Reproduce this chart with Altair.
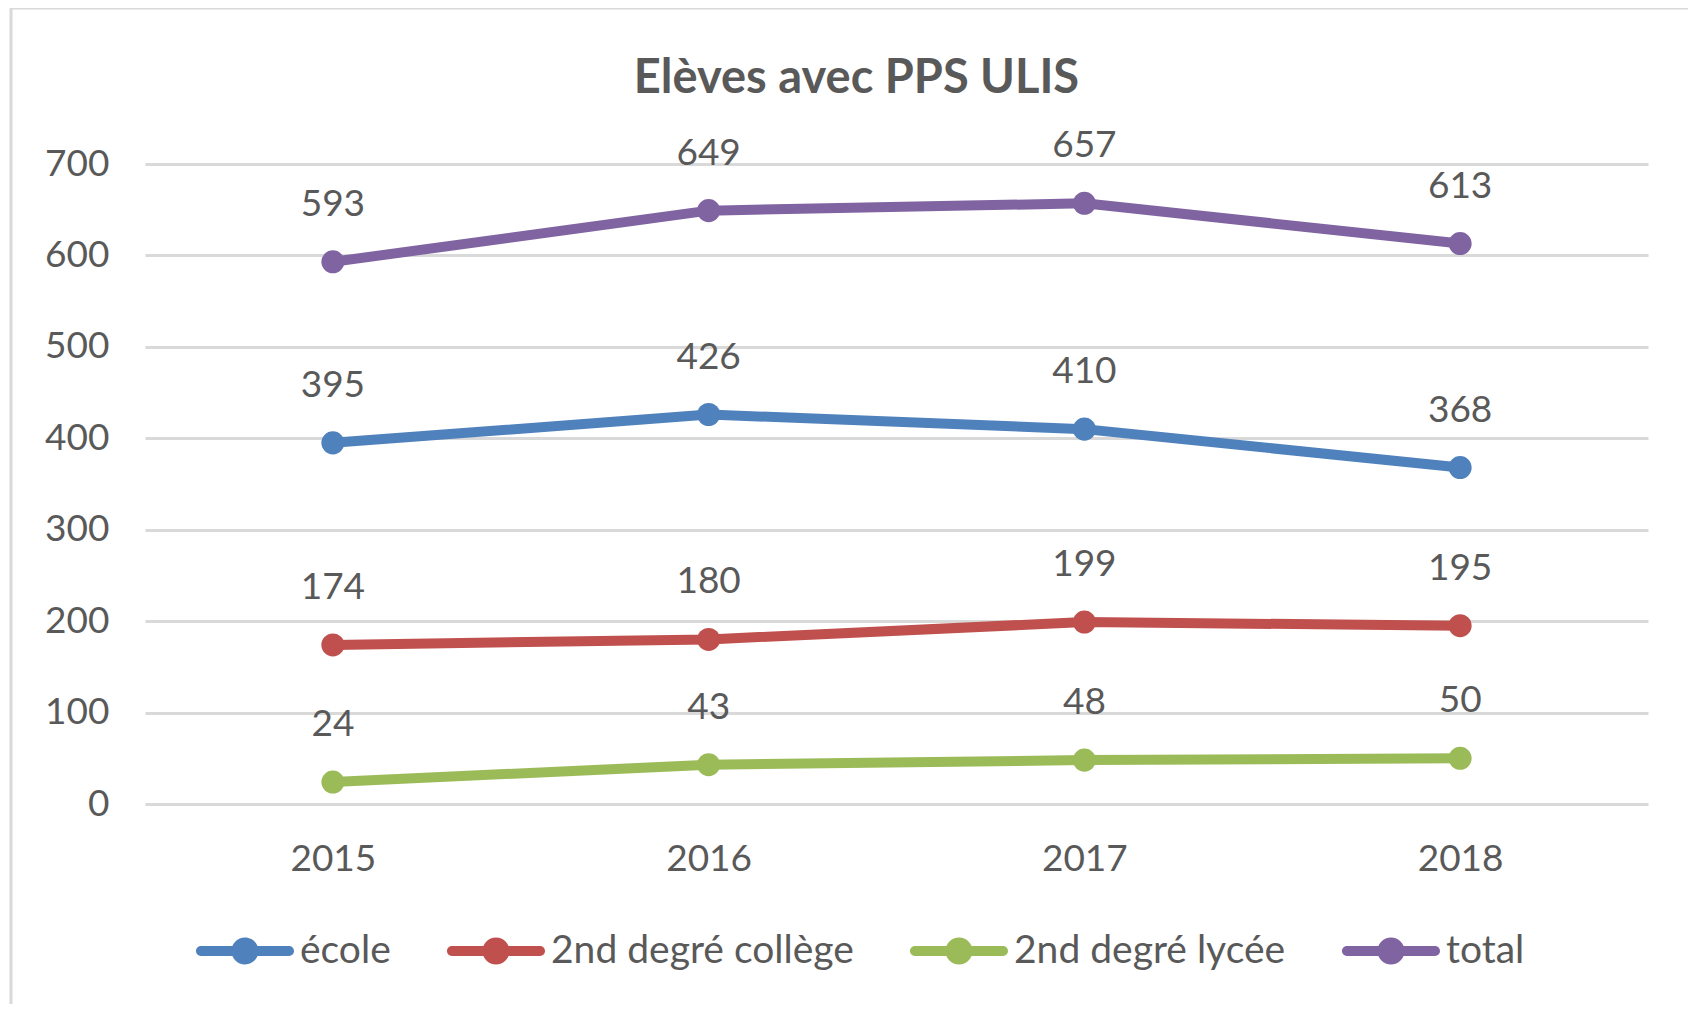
import altair as alt
import pandas as pd

years = ["2015", "2016", "2017", "2018"]
series = ["école", "2nd degré collège", "2nd degré lycée", "total"]
ecole = [395, 426, 410, 368]
college = [174, 180, 199, 195]
lycee = [24, 43, 48, 50]
total = [593, 649, 657, 613]
colors = ["#4F81BD", "#C0504D", "#9BBB59", "#8064A2"]
y_ticks = [0, 100, 200, 300, 400, 500, 600, 700]

rows = []
for name, vals in zip(series, [ecole, college, lycee, total]):
    for yr, v in zip(years, vals):
        rows.append({"year": yr, "series": name, "value": v})
df = pd.DataFrame(rows)

FONT = "Lato"
GRAY = "#595959"
GRID = "#d9d9d9"
FS = 37

legend_path = (
    "M-0.9,-0.1 L0.9,-0.1 A0.1,0.1 0 0,1 0.9,0.1 L-0.9,0.1 A0.1,0.1 0 0,1 -0.9,-0.1 Z "
    "M0.276,0 A0.276,0.276 0 1,1 -0.276,0 A0.276,0.276 0 1,1 0.276,0 Z"
)

x_enc = alt.X(
    "year:O",
    sort=years,
    scale=alt.Scale(type="point", padding=0.5),
    axis=alt.Axis(
        title=None, labelAngle=0, ticks=False, domain=False, grid=False,
        labelPadding=37, labelFont=FONT, labelFontSize=FS, labelColor=GRAY,
    ),
)
y_enc = alt.Y(
    "value:Q",
    scale=alt.Scale(domain=[0, 700], nice=False),
    axis=alt.Axis(
        values=y_ticks, title=None, domain=False, ticks=False, tickSize=0,
        labelPadding=36, labelFont=FONT, labelFontSize=FS, labelColor=GRAY,
        gridColor=GRID, gridWidth=3,
    ),
)
color_scale = alt.Scale(domain=series, range=colors)
legend = alt.Legend(
    orient="none", legendX=51, legendY=738, direction="horizontal",
    title=None, symbolType=legend_path, symbolSize=9604,
    symbolStrokeWidth=0, symbolOpacity=1,
    labelFont=FONT, labelFontSize=39, labelColor=GRAY,
    labelOffset=6, columnPadding=56, labelLimit=600,
)

base = alt.Chart(df)

border = alt.Chart(pd.DataFrame({"a": [0]})).mark_rect(
    filled=False, stroke=GRID, strokeWidth=3
).encode(
    x=alt.value(-134), x2=alt.value(1553), y=alt.value(-156), y2=alt.value(870)
)

lines = base.mark_line(strokeWidth=10, strokeJoin="round", strokeCap="round").encode(
    x=x_enc, y=y_enc,
    color=alt.Color("series:N", scale=color_scale, legend=legend),
)

points = base.mark_circle(size=531, opacity=1).encode(
    x=x_enc, y=y_enc,
    color=alt.Color("series:N", scale=color_scale, legend=legend),
)

labels = base.mark_text(dy=-57, font=FONT, fontSize=FS, color=GRAY, baseline="middle").encode(
    x=x_enc, y=y_enc, text="value:Q",
)

chart = alt.layer(border, lines, points, labels).properties(
    width=1503,
    height=640,
    title=alt.TitleParams(
        "Elèves avec PPS ULIS", font=FONT, fontSize=47, fontWeight="bold",
        color=GRAY, anchor="middle", dx=-40, offset=-96,
    ),
    autosize=alt.AutoSizeParams(type="none"),
    padding={"left": 137, "top": 156, "right": 40, "bottom": 200},
).configure_view(stroke=None)

chart.save("out.html", embed_options={"renderer": "svg", "actions": False})
